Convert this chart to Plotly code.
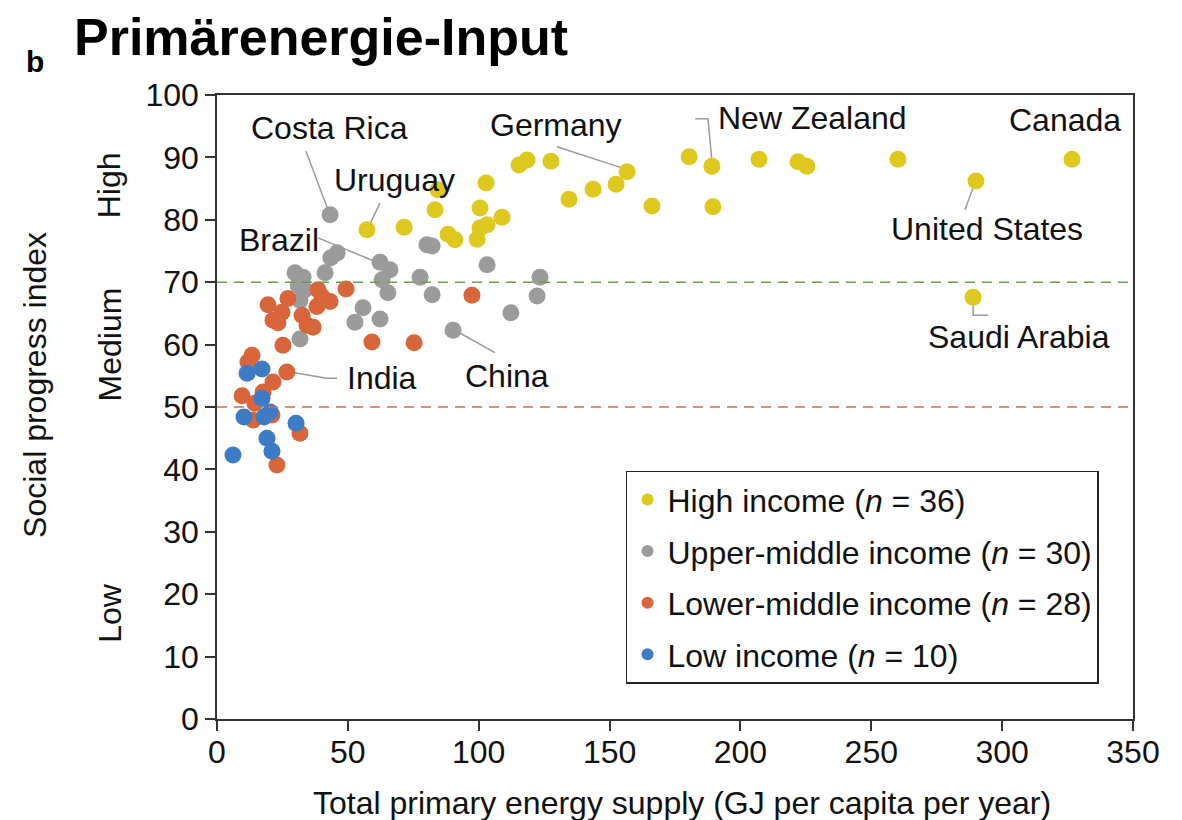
import plotly.graph_objects as go

# income groups: total primary energy supply (GJ/cap/yr) vs social progress index
high_x = [57.3, 71.5, 83.3, 84.4, 88.3, 90.9, 99.4, 100.5, 103.2, 100.5, 102.8, 108.9,
          115.4, 118.5, 127.6, 134.5, 143.7, 152.5, 156.7, 166.2, 180.4, 189.1, 189.5,
          207.1, 222.0, 225.4, 260.2, 290.0, 326.7, 288.9]
high_y = [78.4, 78.8, 81.6, 84.8, 77.7, 76.8, 76.9, 78.7, 79.2, 81.9, 85.9, 80.4,
          88.8, 89.6, 89.4, 83.3, 84.9, 85.7, 87.7, 82.2, 90.1, 88.6, 82.1,
          89.7, 89.3, 88.6, 89.7, 86.2, 89.7, 67.6]

upper_x = [43.2, 45.9, 43.5, 62.3, 66.1, 63.1, 65.3, 29.8, 32.9, 41.3, 33.6, 31.7, 31.0,
           55.8, 52.7, 62.3, 31.7, 77.6, 82.2, 80.2, 82.2, 103.2, 90.2, 123.4, 122.3, 112.3]
upper_y = [80.8, 74.7, 73.9, 73.2, 72.0, 70.4, 68.3, 71.5, 70.8, 71.5, 68.8, 67.1, 69.5,
           65.9, 63.6, 64.1, 60.9, 70.8, 68.0, 76.0, 75.8, 72.8, 62.3, 70.8, 67.8, 65.1]

lower_x = [49.3, 38.6, 40.1, 43.2, 38.2, 97.4, 27.1, 19.5, 24.8, 21.4, 23.3, 32.5, 34.4, 36.7,
           25.2, 59.2, 75.3, 13.4, 11.8, 26.7, 21.4, 17.6, 9.6, 14.5, 21.0, 13.8, 31.7, 22.9]
lower_y = [68.9, 68.8, 67.7, 66.9, 66.1, 67.9, 67.4, 66.4, 65.2, 63.9, 63.5, 64.7, 63.1, 62.8,
           59.9, 60.4, 60.3, 58.3, 57.2, 55.6, 54.0, 52.4, 51.8, 50.6, 48.7, 47.9, 45.8, 40.7]

low_x = [11.5, 17.2, 17.2, 10.3, 18.0, 20.3, 30.2, 19.1, 21.0, 6.1]
low_y = [55.4, 56.1, 51.4, 48.4, 48.4, 49.2, 47.4, 45.0, 42.9, 42.3]

group_names = ["High income (<i>n</i> = 36)", "Upper-middle income (<i>n</i> = 30)",
               "Lower-middle income (<i>n</i> = 28)", "Low income (<i>n</i> = 10)"]
group_colors = ["#DEC81E", "#9B9B9B", "#D9653A", "#3D7CC4"]

# country labels: text position and leader line path
labels = [
    ("Costa Rica", 42.8, 94.7, [(34.0, 91.0), (42.4, 81.6)]),
    ("Uruguay", 68.0, 86.4, [(62.3, 82.7), (57.7, 78.7)]),
    ("Brazil", 23.7, 76.8, [(38.6, 77.1), (61.1, 73.2)]),
    ("Germany", 129.5, 95.2, [(129.9, 91.7), (157.0, 88.0)]),
    ("New Zealand", 227.4, 96.3, [(182.7, 96.2), (187.6, 96.2), (189.2, 89.1)]),
    ("Canada", 324.0, 96.0, []),
    ("United States", 294.2, 78.5, [(285.8, 81.6), (289.6, 85.9)]),
    ("Saudi Arabia", 306.5, 61.2, [(288.9, 67.5), (288.9, 64.7), (294.6, 64.7)]),
    ("India", 63.0, 54.6, [(27.9, 55.6), (42.0, 54.6), (45.9, 54.6)]),
    ("China", 110.8, 55.0, [(90.9, 62.3), (106.2, 58.7)]),
]

FONT = "Liberation Sans, Arial, sans-serif"
TXT = 32

fig = go.Figure()

# leader lines first so the points sit on top
for name, tx, ty, path in labels:
    if path:
        fig.add_trace(go.Scatter(
            x=[p[0] for p in path], y=[p[1] for p in path], mode="lines",
            line=dict(color="#9a9a9a", width=1.5), showlegend=False, hoverinfo="skip"
        ))

for i, (xs, ys) in enumerate([(high_x, high_y), (upper_x, upper_y),
                              (lower_x, lower_y), (low_x, low_y)]):
    fig.add_trace(go.Scatter(
        x=xs, y=ys, mode="markers", name=group_names[i], legendgroup=f"g{i}",
        marker=dict(size=17, color=group_colors[i], line=dict(width=0))
    ))

fig.add_hline(y=70, line=dict(color="#6E9E4C", width=1.6, dash="10px,7px"))
fig.add_hline(y=50, line=dict(color="#E0654E", width=1.6, dash="10px,7px"))

for name, tx, ty, path in labels:
    fig.add_annotation(x=tx, y=ty, text=name, showarrow=False,
                       xanchor="center", yanchor="middle",
                       font=dict(size=TXT, color="#111111", family=FONT))

# category labels along y axis
for txt, yv in [("High", 85.5), ("Medium", 60), ("Low", 17)]:
    fig.add_annotation(x=-0.117, xref="paper", y=yv, yref="y", text=txt, textangle=-90,
                       xanchor="center", yanchor="middle", showarrow=False,
                       font=dict(size=TXT, color="#111111", family=FONT))

fig.add_annotation(x=-0.199, xref="paper", y=0.535, yref="paper", text="Social progress index",
                   textangle=-90, xanchor="center", yanchor="middle", showarrow=False,
                   font=dict(size=TXT, color="#111111", family=FONT))
fig.add_annotation(x=0.508, xref="paper", y=-0.135, yref="paper",
                   text="Total primary energy supply (GJ per capita per year)",
                   xanchor="center", yanchor="middle", showarrow=False,
                   font=dict(size=TXT, color="#111111", family=FONT))
fig.add_annotation(x=-0.158, xref="paper", xanchor="left", y=1.093, yref="paper",
                   yanchor="middle", text="<b>Primärenergie-Input</b>", showarrow=False,
                   font=dict(size=52, color="black", family=FONT))
fig.add_annotation(x=-0.199, xref="paper", y=1.054, yref="paper", text="<b>b</b>",
                   xanchor="center", yanchor="middle", showarrow=False,
                   font=dict(size=30, color="black", family=FONT))

fig.update_layout(
    width=1182, height=820,
    margin=dict(l=217, r=49, t=95, b=101),
    plot_bgcolor="white", paper_bgcolor="white",
    font=dict(family=FONT, color="#111111"),
    legend=dict(
        x=0.4465, y=0.398, xanchor="left", yanchor="top",
        bgcolor="white", bordercolor="#222222", borderwidth=1.5,
        font=dict(size=TXT, family=FONT, color="#111111"),
        itemsizing="constant", tracegroupgap=7, traceorder="grouped",
    ),
    xaxis=dict(
        range=[0, 350], tickvals=[0, 50, 100, 150, 200, 250, 300, 350],
        showgrid=False, zeroline=False, showline=True, linecolor="#333333", linewidth=1.5,
        mirror=True, ticks="outside", ticklen=10, tickcolor="#333333", tickwidth=1.5,
        ticklabelstandoff=-6,
        tickfont=dict(size=32, family=FONT, color="#111111"),
    ),
    yaxis=dict(
        range=[0, 100], tickvals=list(range(0, 101, 10)),
        showgrid=False, zeroline=False, showline=True, linecolor="#333333", linewidth=1.5,
        mirror=True, ticks="outside", ticklen=10, tickcolor="#333333", tickwidth=1.5,
        tickfont=dict(size=32, family=FONT, color="#111111"),
    ),
)

# drop the default 8px page margin so the figure fills the window exactly
fig.write_html("out.html", config={"displayModeBar": False},
               post_script="document.body.style.margin='0';")
